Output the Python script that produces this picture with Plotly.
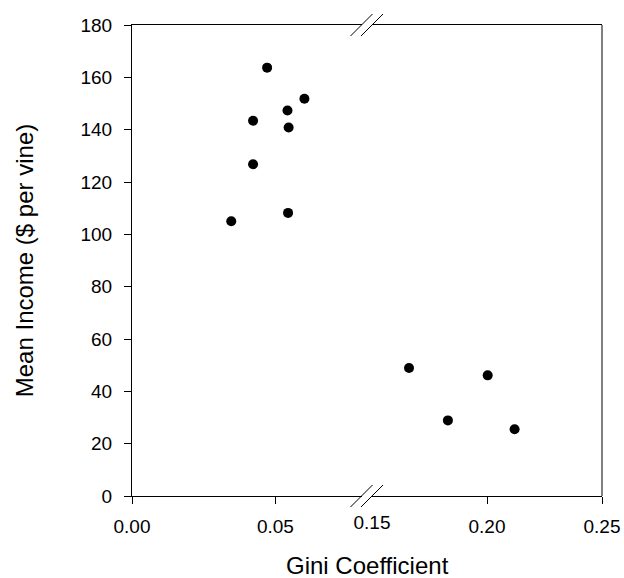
import plotly.graph_objects as go

# Data (Gini coefficient, mean income $ per vine)
gini_low = [0.0471, 0.0601, 0.0542, 0.0422, 0.0546, 0.0422, 0.0544, 0.0346]
income_low = [163.7, 151.8, 147.3, 143.4, 140.8, 126.8, 108.2, 105.0]
gini_high = [0.1661, 0.2003, 0.1830, 0.2120]
income_high = [48.9, 46.1, 28.9, 25.5]

x_low_ticks = [0.00, 0.05]
x_low_labels = ["0.00", "0.05"]
x_high_ticks = [0.20, 0.25]
x_high_labels = ["0.20", "0.25"]
x_break_tick = [0.15]
x_break_label = ["0.15"]
y_ticks = [0, 20, 40, 60, 80, 100, 120, 140, 160, 180]

FONT = "Liberation Sans, Arial, sans-serif"
tickfont = dict(family=FONT, size=19, color="black")
titlefont = dict(family=FONT, size=24, color="black")

W, H = 624, 578
ml, mr, mt, mb = 132, 22, 25, 82
pw = W - ml - mr
left_end = (361.5 - ml) / pw
right_start = (372 - ml) / pw

fig = go.Figure()
marker = dict(color="black", size=10, line=dict(width=0))
fig.add_trace(go.Scatter(x=gini_low, y=income_low, mode="markers", marker=marker,
                         xaxis="x", yaxis="y", showlegend=False, hoverinfo="skip"))
fig.add_trace(go.Scatter(x=gini_high, y=income_high, mode="markers", marker=marker,
                         xaxis="x2", yaxis="y", showlegend=False, hoverinfo="skip"))
fig.add_trace(go.Scatter(x=[], y=[], mode="markers", xaxis="x3", yaxis="y",
                         showlegend=False, hoverinfo="skip"))

axcommon = dict(showline=True, linecolor="black", linewidth=1, ticks="outside",
                ticklen=7, tickwidth=1, tickcolor="black", showgrid=False,
                zeroline=False, tickfont=tickfont, mirror=True, ticklabelstandoff=6,
                automargin=False)

fig.update_layout(
    width=W, height=H,
    margin=dict(l=ml, r=mr, t=mt, b=mb),
    paper_bgcolor="white", plot_bgcolor="white",
    xaxis=dict(domain=[0, left_end], range=[0, 0.08], tickvals=x_low_ticks,
               ticktext=x_low_labels, anchor="y", **axcommon),
    xaxis2=dict(domain=[right_start, 1], range=[0.15, 0.25], tickvals=x_high_ticks,
                ticktext=x_high_labels, anchor="y", **axcommon),
    xaxis3=dict(domain=[right_start, 1], range=[0.15, 0.25], tickvals=x_break_tick,
                ticktext=x_break_label, anchor="y", overlaying="x2", showline=False,
                ticks="", showgrid=False, zeroline=False, tickfont=tickfont,
                ticklabelstandoff=13, automargin=False),
    yaxis=dict(range=[0, 180], tickvals=y_ticks, anchor="x", showline=True,
               linecolor="black", linewidth=1, ticks="outside", ticklen=7,
               tickwidth=1, tickcolor="black", showgrid=False, zeroline=False,
               tickfont=tickfont, ticklabelstandoff=8, automargin=False,
               title=dict(text="Mean Income ($ per vine)", font=titlefont, standoff=40)),
)

# x-axis title as annotation centered under whole plot
fig.add_annotation(text="Gini Coefficient", xref="paper", yref="paper", x=0.5, y=0,
                   yshift=-69, xanchor="center", yanchor="middle", showarrow=False,
                   font=titlefont)

# right frame line
fig.add_shape(type="line", xref="paper", yref="paper", x0=1, x1=1, y0=0, y1=1,
              line=dict(color="black", width=1), layer="above")

# break marks (pixel-sized slashes centred on the axis gap)
for yp in (0, 1):
    for xp in (left_end, right_start):
        fig.add_shape(type="line", xref="paper", yref="paper",
                      xsizemode="pixel", ysizemode="pixel", xanchor=xp, yanchor=yp,
                      x0=-11, x1=11, y0=-11, y1=11,
                      line=dict(color="black", width=1), layer="above")

fig.write_html("out.html", config={"displayModeBar": False, "staticPlot": True},
               post_script="document.body.style.margin='0px';document.body.style.overflow='hidden';")
